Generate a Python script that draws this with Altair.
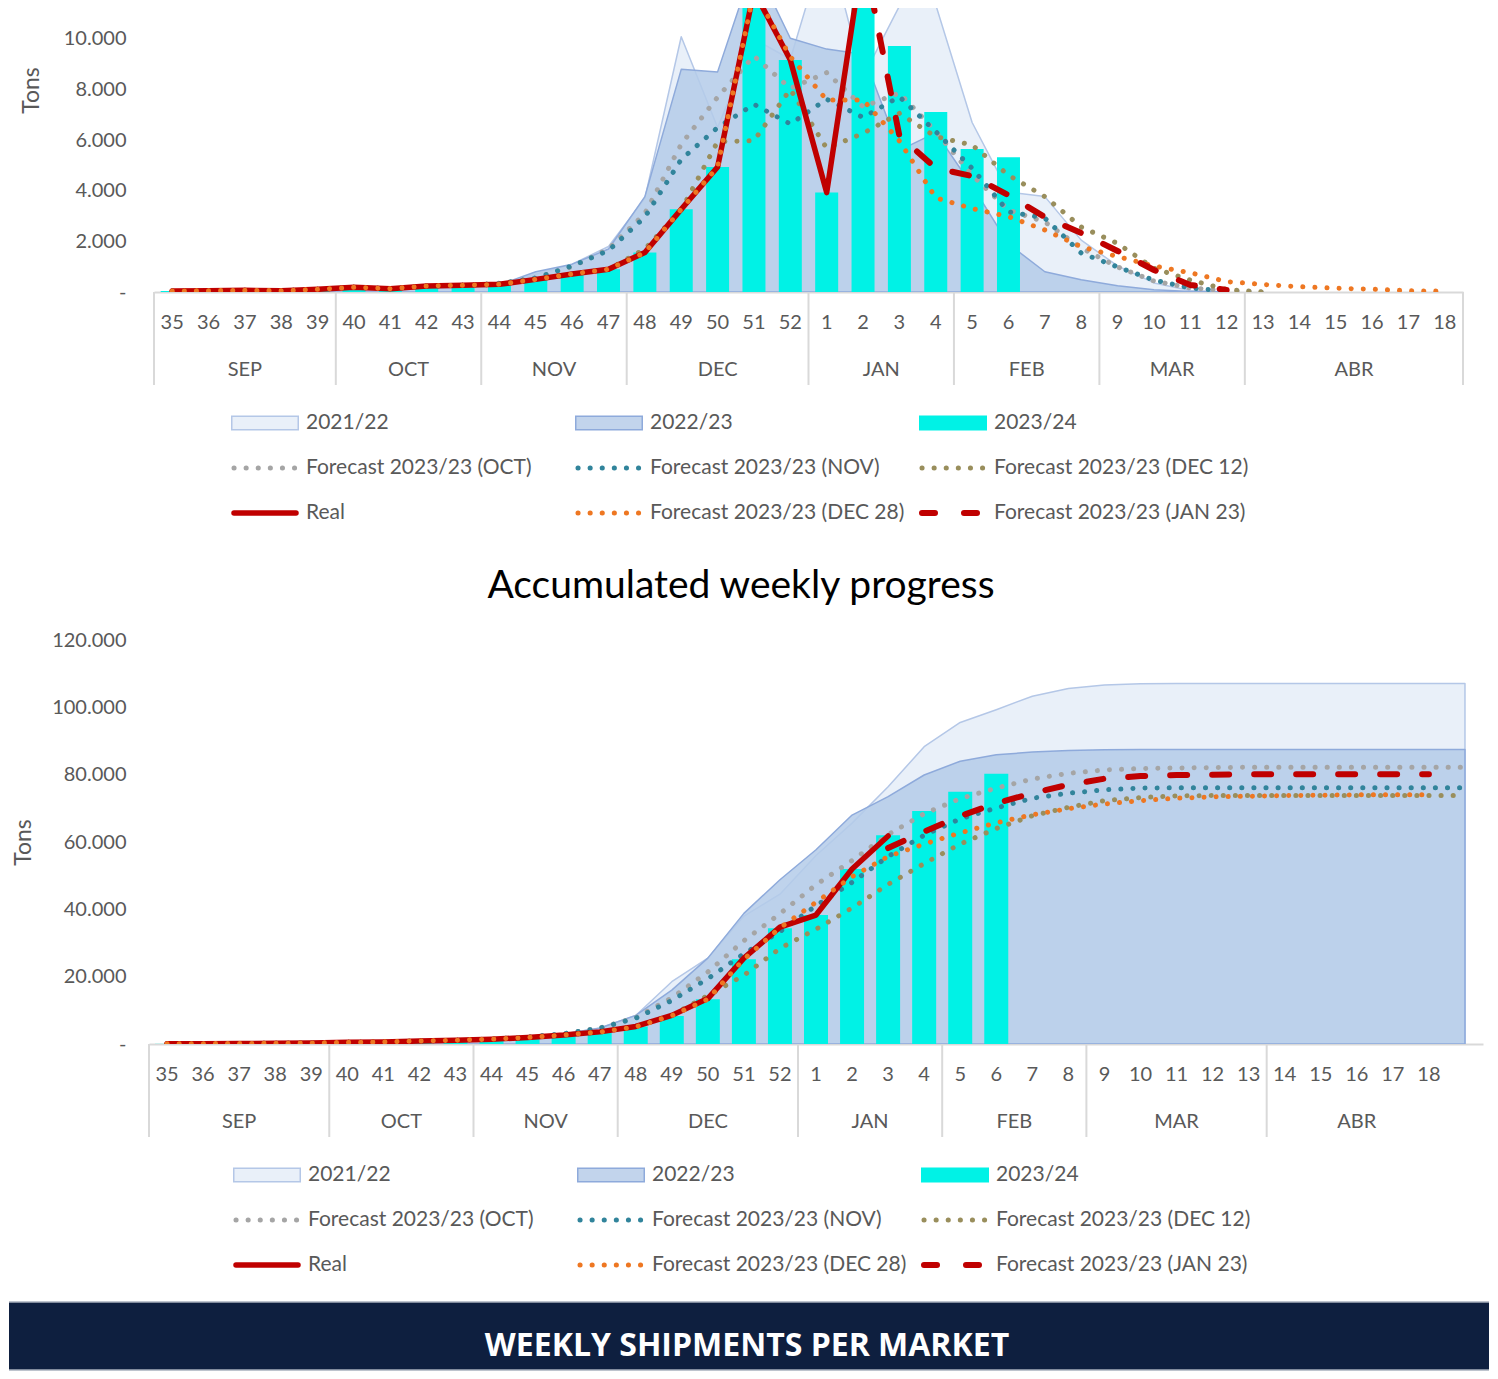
import altair as alt
import pandas as pd

# ---------------- data ----------------
weeks_top = [str(w) for w in list(range(35, 53)) + list(range(1, 19))]
weeks_bottom = weeks_top + [" "]

month_names = ["SEP", "OCT", "NOV", "DEC", "JAN", "FEB", "MAR", "ABR"]
month_len_top = [5, 4, 4, 5, 4, 4, 4, 6]
month_len_bottom = [5, 4, 4, 5, 4, 4, 5, 5]

# weekly tons (top chart), aligned with weeks_top
top_2122 = [20, 30, 40, 50, 80, 120, 130, 170, 220, 300, 700, 1100, 1800, 3700, 10090, 6500,
            10000, 9200, 14000, 8500, 11300, 11350, 6700, 3950, 3770, 2050, 1030, 360, 60, 0]
top_2223 = [20, 30, 40, 50, 80, 120, 130, 160, 200, 280, 800, 1100, 1700, 3770, 8800, 8700,
            13000, 10030, 9600, 9400, 5600, 6300, 4200, 1900, 800, 480, 250, 90, 20, 0]
top_2324 = [40, 53, 66, 53, 105, 185, 132, 237, 263, 303, 500, 711, 900, 1560, 3270, 4940,
            11900, 9170, 3930, 13400, 9723, 7115, 5652, 5324]
top_oct = [40, 53, 66, 53, 105, 185, 132, 237, 263, 350, 560, 1000, 1700, 3100, 5840, 7700,
           9330, 8050, 8670, 7320, 7870, 6340, 4620, 3240, 2770, 1740, 990, 435, 160, 60, 0]
top_nov = [40, 53, 66, 53, 105, 185, 132, 237, 263, 330, 550, 1030, 1640, 2960, 5240, 6500,
           7420, 6640, 7620, 6900, 7720, 6340, 4890, 3170, 2920, 1540, 990, 470, 160, 40]
top_dec12 = [40, 53, 66, 53, 105, 185, 132, 237, 263, 303, 500, 711, 900, 1700, 3240, 5940,
             5980, 8010, 5680, 6270, 7060, 6140, 5810, 4620, 3770, 2570, 1920, 940, 470, 100, 0]
top_real = [40, 53, 66, 53, 105, 185, 132, 237, 263, 303, 500, 711, 900, 1560, 3270, 4940,
            11900, 9170, 3930, 13400]
top_dec28 = [40, 53, 66, 53, 105, 185, 132, 237, 263, 303, 500, 711, 900, 1560, 3270, 4940,
             11900, 9300, 7590, 7590, 5970, 3720, 3300, 2980, 2450, 1790, 1400, 1030, 760, 410,
             300, 210, 150, 110, 50, 30]
top_jan23 = [None] * 19 + [13400, 6170, 4900, 4580, 3830, 2960, 2330, 1620, 870, 280, 80]

# accumulated tons (bottom chart), aligned with weeks_bottom
bot_2122 = [20, 50, 90, 140, 220, 340, 470, 640, 860, 1160, 1860, 2960, 4760, 8460, 18500, 25500,
            38000, 44500, 56000, 65600, 76400, 88300, 95500, 99300, 103300, 105600, 106600, 107000,
            107100, 107100, 107100, 107100, 107100, 107100, 107100, 107100, 107100]
bot_2223 = [20, 50, 90, 140, 220, 340, 470, 630, 830, 1110, 1900, 3000, 4700, 8500, 16000, 25500,
            38800, 48800, 57700, 68000, 73500, 79900, 84000, 85900, 86700, 87200, 87400, 87500,
            87500, 87500, 87500, 87500, 87500, 87500, 87500, 87500, 87500]
bot_2324 = [40, 90, 160, 210, 320, 500, 630, 870, 1130, 1440, 1940, 2650, 3600, 5200, 8300, 13300,
            25200, 34400, 38300, 52000, 62000, 69200, 74900, 80300]
bot_oct = [40, 90, 160, 210, 320, 500, 630, 870, 1130, 1480, 2040, 3040, 4740, 7840, 13700, 21400,
           30700, 38700, 47300, 54500, 62200, 68400, 72900, 76000, 78700, 80400, 81400, 81800,
           82000, 82100, 82200, 82200, 82200, 82200, 82200, 82200, 82200]
bot_nov = [40, 90, 160, 210, 320, 500, 630, 870, 1130, 1460, 2010, 3040, 4680, 7640, 12900, 19400,
           26800, 33400, 41100, 48000, 55700, 62000, 66900, 70100, 73000, 74500, 75500, 76000,
           76100, 76100, 76100, 76100, 76100, 76100, 76100, 76100, 76100]
bot_dec12 = [40, 90, 160, 210, 320, 500, 630, 870, 1130, 1440, 1940, 2650, 3550, 5250, 8500, 14400,
             20400, 28400, 34100, 40400, 47400, 53600, 59400, 64000, 67800, 70300, 72300, 73200,
             73700, 73800, 73800, 73800, 73800, 73800, 73800, 73800, 73800]
bot_real = [40, 90, 160, 210, 320, 500, 630, 870, 1130, 1440, 1940, 2650, 3600, 5200, 8500, 13500,
            25500, 34700, 38300, 52000, 61800]
bot_dec28 = [40, 90, 160, 210, 320, 500, 630, 870, 1130, 1440, 1940, 2650, 3550, 5100, 8400, 13300,
             25200, 34500, 42100, 49700, 55700, 59400, 62700, 65700, 68100, 69900, 71300, 72300,
             73000, 73400, 73600, 73800, 73900, 74000, 74000, 74000]
bot_jan23 = [None] * 20 + [58200, 63100, 67700, 71500, 74500, 77000, 78800, 79600, 79900, 80000,
                           80100, 80100, 80100, 80100, 80100, 80100]

legend_labels = ["2021/22", "2022/23", "2023/24",
                 "Forecast 2023/23 (OCT)", "Forecast 2023/23 (NOV)", "Forecast 2023/23 (DEC 12)",
                 "Real", "Forecast 2023/23 (DEC 28)", "Forecast 2023/23 (JAN 23)"]
legend_kinds = ["area", "area", "bar", "dot", "dot", "dot", "solid", "dot", "dash"]

chart_title = "Accumulated weekly progress"
banner_text = "WEEKLY SHIPMENTS PER MARKET"

# ---------------- styles ----------------
FONT = "Lato"
TXT = "#595959"
AXIS_GREY = "#D9D9D9"
C_2122_FILL, C_2122_LINE = "#E9F0F9", "#B4C7E7"
C_2223_FILL, C_2223_LINE = "#B4CBE9", "#8EAADB"
C_2324 = "#00F2E6"
C_OCT, C_NOV, C_DEC12, C_DEC28, C_RED = "#A5A5A5", "#31849B", "#998E5C", "#EE7722", "#C00000"

edge_color = {"2021/22": C_2122_LINE, "2022/23": C_2223_LINE, "2023/24": C_2324,
              "Forecast 2023/23 (OCT)": C_OCT, "Forecast 2023/23 (NOV)": C_NOV,
              "Forecast 2023/23 (DEC 12)": C_DEC12, "Real": C_RED,
              "Forecast 2023/23 (DEC 28)": C_DEC28, "Forecast 2023/23 (JAN 23)": C_RED}
fill_color = dict(edge_color)
fill_color.update({"2021/22": "#E9F0F9", "2022/23": "#C2D4EC"})

DOT = dict(strokeWidth=5, strokeDash=[0.1, 12], strokeCap="round", strokeJoin="round")

ORIGIN = 153          # page x of the plot origins (all cells share it)
PAGE_RIGHT = 1482     # page x of the right edge of the content
CELL_W = PAGE_RIGHT - ORIGIN
LEFT_EXT = 145        # how far the banner reaches left of the origin (page x = 8)


def series_df(weeks, values):
    return pd.DataFrame([{"w": w, "v": v} for w, v in zip(weeks, values) if v is not None])


def month_frames(weeks, month_len):
    starts, odd, even = [], [], []
    s = 0
    for name, n in zip(month_names, month_len):
        starts.append(weeks[s])
        if n % 2 == 1:
            odd.append({"w": weeks[s + n // 2], "m": name})
        else:
            even.append({"w": weeks[s + n // 2 - 1], "m": name})
        s += n
    return (pd.DataFrame({"w": starts}), pd.DataFrame(odd), pd.DataFrame(even),
            pd.DataFrame({"w": [weeks[s - 1]]}))


def make_panel(weeks, vals, W, H, ymax, ystep, month_len, end_rule, tx, ty, bar_size,
               xrange=None, title=None):
    if xrange is None:
        xs = alt.Scale(domain=weeks, paddingInner=0, paddingOuter=0)
    else:
        xs = alt.Scale(domain=weeks, paddingInner=0, paddingOuter=0, range=xrange)
    ys = alt.Scale(domain=[0, ymax], nice=False, zero=True)
    xaxis = alt.Axis(title=None, labelAngle=0, labelFont=FONT, labelFontSize=20, labelColor=TXT,
                     labelPadding=20.5, ticks=False, domainColor=AXIS_GREY, domainWidth=2,
                     grid=False)
    yaxis = alt.Axis(title="Tons", titleFont=FONT, titleFontSize=23, titleFontWeight="normal",
                     titleColor=TXT, titleX=tx, titleY=ty, titleAngle=270, titleBaseline="middle",
                     titleAlign="center", values=list(range(0, ymax + 1, ystep)),
                     labelExpr="datum.value == 0 ? '-' : replace(format(datum.value, ',.0f'), ',', '.')",
                     labelFont=FONT, labelFontSize=20, labelColor=TXT, labelPadding=28,
                     ticks=False, domain=False, grid=False)

    def X(**kw):
        return alt.X("w:N", scale=xs, axis=xaxis, **kw)

    def Y():
        return alt.Y("v:Q", scale=ys, axis=yaxis)

    L = []
    L.append(alt.Chart(series_df(weeks, vals["2122"])).mark_area(
        fill=C_2122_FILL, stroke=C_2122_LINE, strokeWidth=1.5, strokeJoin="round", clip=True
    ).encode(x=X(), y=Y()))
    L.append(alt.Chart(series_df(weeks, vals["2223"])).mark_area(
        fill=C_2223_FILL, fillOpacity=0.85, stroke=C_2223_LINE, strokeWidth=1.5,
        strokeJoin="round", clip=True).encode(x=X(), y=Y()))
    L.append(alt.Chart(series_df(weeks, vals["2324"])).mark_bar(
        size=bar_size, color=C_2324, clip=True).encode(x=X(), y=Y()))
    for key, col in [("oct", C_OCT), ("nov", C_NOV), ("dec12", C_DEC12)]:
        L.append(alt.Chart(series_df(weeks, vals[key])).mark_line(
            stroke=col, clip=True, **DOT).encode(x=X(), y=Y()))
    L.append(alt.Chart(series_df(weeks, vals["real"])).mark_line(
        stroke=C_RED, strokeWidth=5.5, strokeCap="round", strokeJoin="round", clip=True
    ).encode(x=X(), y=Y()))
    L.append(alt.Chart(series_df(weeks, vals["dec28"])).mark_line(
        stroke=C_DEC28, clip=True, **DOT).encode(x=X(), y=Y()))
    L.append(alt.Chart(series_df(weeks, vals["jan23"])).mark_line(
        stroke=C_RED, strokeWidth=6, strokeDash=[17, 25], strokeCap="round",
        strokeJoin="round", clip=True).encode(x=X(), y=Y()))

    starts, odd, even, last = month_frames(weeks, month_len)
    L.append(alt.Chart(starts).mark_rule(color=AXIS_GREY, strokeWidth=2).encode(
        x=X(bandPosition=0), y=alt.value(H), y2=alt.value(H + 93)))
    if end_rule:
        L.append(alt.Chart(last).mark_rule(color=AXIS_GREY, strokeWidth=2).encode(
            x=X(bandPosition=1), y=alt.value(H), y2=alt.value(H + 93)))
    mtxt = dict(font=FONT, fontSize=20, color=TXT, baseline="middle", align="center")
    L.append(alt.Chart(odd).mark_text(**mtxt).encode(
        x=X(bandPosition=0.5), y=alt.value(H + 78), text="m:N"))
    L.append(alt.Chart(even).mark_text(**mtxt).encode(
        x=X(bandPosition=1), y=alt.value(H + 78), text="m:N"))

    ch = alt.layer(*L).properties(width=W, height=H)
    if title is not None:
        ch = ch.properties(title=title)
    return ch


def legend_chart(first_px, H):
    step = 344.0
    d0 = -(first_px - ORIGIN) / step
    xs = alt.Scale(domain=[d0, d0 + CELL_W / step], nice=False, zero=False)
    r0 = -37.0 / 45.0
    ys = alt.Scale(domain=[r0, r0 + H / 45.0], nice=False, zero=False, reverse=True)
    df = pd.DataFrame({"label": legend_labels, "kind": legend_kinds})
    df["col"] = [i % 3 for i in range(len(df))]
    df["row"] = [i // 3 for i in range(len(df))]
    df["edge"] = df["label"].map(edge_color)
    df["fillc"] = df["label"].map(fill_color)
    base = alt.Chart(df)

    def enc(cfield):
        return dict(x=alt.X("a:Q", scale=xs, axis=None), x2=alt.X2("b"),
                    y=alt.Y("row:Q", scale=ys, axis=None),
                    color=alt.Color(cfield + ":N", scale=None, legend=None))

    L = [
        base.transform_filter("datum.kind == 'area' || datum.kind == 'bar'").transform_calculate(
            a="datum.col", b=f"datum.col + {68 / step}").mark_rule(
            strokeWidth=15, strokeCap="butt").encode(**enc("edge")),
        base.transform_filter("datum.kind == 'area'").transform_calculate(
            a=f"datum.col + {1.5 / step}", b=f"datum.col + {66.5 / step}").mark_rule(
            strokeWidth=12, strokeCap="butt").encode(**enc("fillc")),
        base.transform_filter("datum.kind == 'dot'").transform_calculate(
            a=f"datum.col + {3 / step}", b=f"datum.col + {66 / step}").mark_rule(
            **DOT).encode(**enc("edge")),
        base.transform_filter("datum.kind == 'solid'").transform_calculate(
            a=f"datum.col + {3 / step}", b=f"datum.col + {65 / step}").mark_rule(
            strokeWidth=5.5, strokeCap="round").encode(**enc("edge")),
        base.transform_filter("datum.kind == 'dash'").transform_calculate(
            a=f"datum.col + {3 / step}", b=f"datum.col + {64 / step}").mark_rule(
            strokeWidth=6, strokeDash=[13, 29], strokeCap="round").encode(**enc("edge")),
        base.transform_calculate(t=f"datum.col + {75 / step}").mark_text(
            align="left", baseline="middle", font=FONT, fontSize=21, color=TXT).encode(
            x=alt.X("t:Q", scale=xs, axis=None), y=alt.Y("row:Q", scale=ys, axis=None),
            text="label:N"),
    ]
    return alt.layer(*L).properties(width=CELL_W, height=H)


top = make_panel(weeks_top,
                 {"2122": top_2122, "2223": top_2223, "2324": top_2324, "oct": top_oct,
                  "nov": top_nov, "dec12": top_dec12, "real": top_real, "dec28": top_dec28,
                  "jan23": top_jan23},
                 W=1309, H=284, ymax=11225, ystep=2000, month_len=month_len_top,
                 end_rule=True, tx=-123, ty=82, bar_size=23)

bottom = make_panel(weeks_bottom,
                    {"2122": bot_2122, "2223": bot_2223, "2324": bot_2324, "oct": bot_oct,
                     "nov": bot_nov, "dec12": bot_dec12, "real": bot_real, "dec28": bot_dec28,
                     "jan23": bot_jan23},
                    W=CELL_W, H=404, ymax=120000, ystep=20000, month_len=month_len_bottom,
                    end_rule=False, tx=-131, ty=202, bar_size=24, xrange=[-5, CELL_W],
                    title=alt.TitleParams(text=chart_title, font=FONT, fontSize=39,
                                          fontWeight="normal", color="#000000", anchor="middle",
                                          frame="bounds", dx=-9, offset=-15, baseline="bottom"))

leg1 = legend_chart(230, 181)
leg2 = legend_chart(232, 163)

BH = 68
bdf = pd.DataFrame({"t": [banner_text]})
bbase = alt.Chart(bdf)
banner = alt.layer(
    bbase.mark_rect(color="#0E1F3F").encode(
        x=alt.value(-LEFT_EXT), x2=alt.value(CELL_W + 6), y=alt.value(0), y2=alt.value(BH)),
    bbase.mark_rule(color="#A9B0BE", strokeWidth=1.5).encode(
        x=alt.value(-LEFT_EXT), x2=alt.value(CELL_W + 6), y=alt.value(0)),
    bbase.mark_rule(color="#A9B0BE", strokeWidth=1.5).encode(
        x=alt.value(-LEFT_EXT), x2=alt.value(CELL_W + 6), y=alt.value(BH)),
    bbase.mark_text(font="Open Sans", fontSize=32, fontWeight="bold", color="#FFFFFF",
                    baseline="middle", align="center").encode(
        x=alt.value(746 - ORIGIN), y=alt.value(44), text="t:N"),
).properties(width=CELL_W, height=BH)

chart = alt.vconcat(top, leg1, bottom, leg2, banner, spacing=0).properties(
    padding=0).configure_view(strokeWidth=0)

chart.save("out.html", embed_options={"renderer": "svg", "actions": False})
